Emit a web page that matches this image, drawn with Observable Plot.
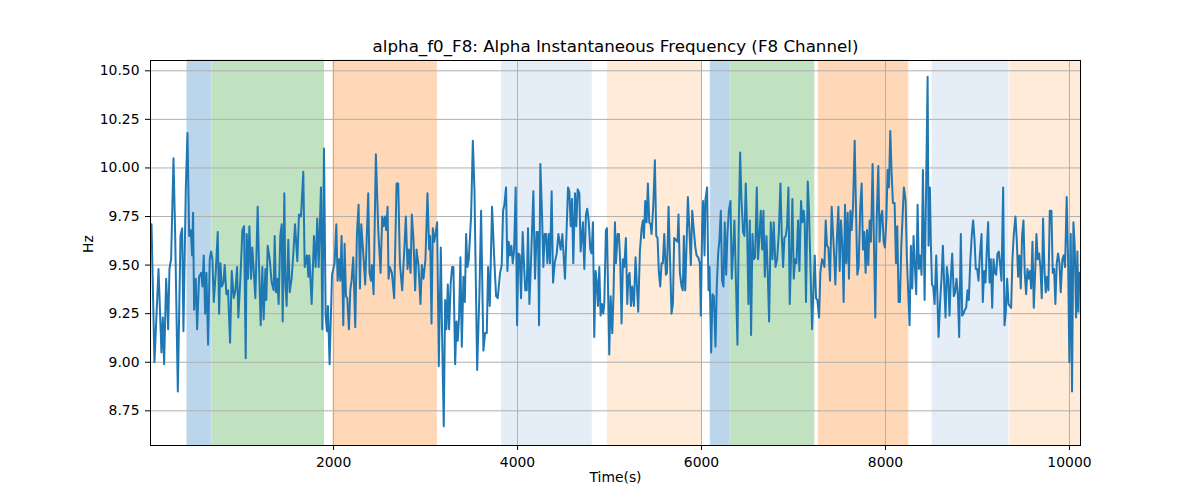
<!DOCTYPE html>
<html>
<head>
<meta charset="utf-8">
<script src="https://cdn.jsdelivr.net/npm/d3@7"></script>
<script src="https://cdn.jsdelivr.net/npm/@observablehq/plot@0.6"></script>
<style>
  body { margin: 0; background: #fff; }
  #chart svg { font-family: "DejaVu Sans", sans-serif; }
</style>
</head>
<body>
<div id="chart"></div>
<script>
const title = "alpha_f0_F8: Alpha Instantaneous Frequency (F8 Channel)";
const xLabel = "Time(s)";
const yLabel = "Hz";
const xTicks = [2000, 4000, 6000, 8000, 10000];
const yTicks = [8.75, 9.00, 9.25, 9.50, 9.75, 10.00, 10.25, 10.50];

const times = [
21,53,97,129,144,158,180,191,202,216,234,260,278,307,336,354,368,394,412,430,448,462,473,484,502,517,538,560,575,589,
604,618,636,654,669,683,698,719,741,756,770,784,803,817,835,853,875,893,915,933,951,965,987,1009,1027,1045,1056,1070,1085,1103,
1117,1150,1175,1190,1208,1226,1240,1259,1269,1284,1306,1327,1349,1360,1374,1389,1403,1421,1436,1447,1465,1476,1490,1508,1523,1544,1563,1581,1606,1624,
1646,1671,1686,1711,1726,1736,1762,1787,1805,1823,1838,1863,1878,1896,1914,1928,1939,1957,1983,2011,2030,2044,2059,2073,2087,2106,2120,2135,2149,2167,
2182,2196,2214,2236,2254,2272,2287,2301,2323,2344,2377,2391,2406,2417,2435,2460,2486,2511,2529,2543,2558,2572,2587,2598,2612,2634,2659,2685,2703,2721,
2746,2768,2786,2804,2818,2837,2851,2869,2887,2902,2923,2945,2960,2978,2999,3021,3039,3050,3065,3079,3094,3108,3126,3144,3166,3180,3198,3213,3227,3242,
3256,3274,3289,3303,3322,3336,3350,3365,3379,3394,3412,3427,3441,3456,3470,3495,3514,3532,3561,3586,3604,3629,3647,3666,3680,3698,3723,3749,3767,3785,
3810,3828,3843,3857,3875,3890,3904,3919,3933,3948,3962,3980,3995,4009,4024,4038,4056,4071,4085,4100,4114,4129,4147,4172,4190,4208,4223,4234,4248,4266,
4281,4295,4310,4324,4339,4353,4371,4386,4404,4426,4444,4469,4487,4516,4549,4563,4578,4592,4606,4625,4639,4654,4672,4686,4711,4726,4744,4758,4773,4791,
4805,4820,4834,4849,4860,4874,4889,4903,4918,4932,4943,4961,4972,4997,5012,5030,5044,5059,5070,5088,5102,5117,5131,5146,5160,5178,5193,5204,5218,5233,
5247,5265,5283,5298,5312,5330,5349,5363,5374,5388,5403,5417,5432,5446,5457,5475,5493,5508,5522,5537,5551,5566,5580,5595,5613,5624,5642,5660,5674,5689,
5703,5721,5739,5750,5765,5783,5797,5808,5823,5837,5852,5870,5884,5899,5913,5931,5946,5964,5982,5993,6007,6018,6033,6043,6061,6076,6087,6105,6119,6134,
6152,6166,6181,6195,6210,6224,6239,6253,6268,6282,6297,6315,6329,6344,6358,6373,6391,6405,6420,6434,6452,6467,6481,6496,6510,6525,6539,6554,6568,6583,
6601,6615,6630,6644,6659,6673,6688,6706,6720,6735,6753,6771,6785,6804,6822,6840,6858,6872,6887,6901,6916,6930,6945,6959,6974,6988,7003,7017,7032,7050,
7064,7082,7097,7111,7122,7136,7155,7169,7184,7202,7216,7231,7245,7260,7278,7292,7310,7321,7336,7350,7364,7379,7397,7415,7430,7444,7455,7473,7488,7502,
7516,7531,7545,7560,7574,7589,7603,7618,7632,7647,7665,7679,7694,7708,7726,7741,7755,7770,7784,7799,7813,7828,7842,7860,7875,7889,7904,7922,7936,7951,
7965,7980,7994,8009,8023,8038,8052,8067,8081,8099,8114,8128,8143,8157,8172,8186,8200,8219,8233,8247,8262,8276,8291,8305,8320,8334,8349,8363,8378,8392,
8407,8425,8458,8468,8483,8494,8505,8519,8534,8552,8563,8577,8595,8610,8624,8639,8653,8667,8682,8696,8711,8725,8743,8758,8772,8787,8801,8819,8834,8848,
8863,8877,8892,8906,8921,8939,8953,8968,8982,8997,9011,9026,9044,9058,9073,9087,9102,9116,9131,9145,9160,9174,9189,9203,9218,9232,9247,9261,9279,9294,
9308,9323,9337,9351,9366,9380,9395,9413,9427,9442,9456,9471,9485,9500,9514,9529,9543,9558,9572,9583,9598,9612,9627,9641,9655,9670,9684,9699,9713,9728,
9742,9757,9771,9786,9804,9818,9833,9847,9862,9876,9891,9905,9923,9938,9952,9970,9985,9999,10014,10028,10043,10057,10072,10086,10097,10108
];

const hz = [
9.71,9.00,9.48,9.05,9.23,8.99,9.43,9.32,9.17,9.48,9.53,10.05,9.66,8.85,9.65,9.69,9.16,9.90,10.18,9.65,9.68,9.55,9.77,9.27,9.43,9.17,9.44,9.46,9.39,9.55,
9.25,9.46,9.09,9.53,9.57,9.53,9.31,9.46,9.67,9.25,9.51,9.39,9.41,9.50,9.35,9.37,9.10,9.47,9.33,9.37,9.49,9.23,9.43,9.68,9.70,9.02,9.66,9.43,9.70,9.43,
9.59,9.33,9.80,9.49,9.19,9.49,9.22,9.48,9.32,9.60,9.53,9.41,9.37,9.65,9.36,9.43,9.30,9.65,9.71,9.21,9.87,9.41,9.29,9.63,9.36,9.43,9.56,9.71,9.52,9.76,
9.75,9.98,9.49,9.55,9.44,9.55,9.30,9.65,9.49,9.74,9.49,9.90,9.17,10.10,9.24,9.16,9.29,8.99,9.45,9.51,9.71,9.42,9.53,9.42,9.65,9.19,9.61,9.34,9.33,9.17,
9.37,9.42,9.54,9.18,9.66,9.81,9.38,9.71,9.56,9.40,9.87,9.46,9.42,9.50,9.35,10.07,9.68,9.46,9.75,9.70,9.75,9.68,9.80,9.43,9.49,9.46,9.33,9.92,9.92,9.51,
9.37,9.57,9.75,9.48,9.58,9.46,9.76,9.63,9.37,9.58,9.50,9.30,9.50,9.43,9.53,9.87,9.58,9.65,9.20,9.69,9.62,9.66,9.72,8.98,9.59,9.14,8.67,9.32,9.17,9.40,
9.17,9.41,9.49,9.49,8.99,9.21,9.11,9.24,9.54,9.08,9.44,9.31,9.66,9.49,9.53,9.75,10.14,9.88,8.96,9.36,9.78,9.06,9.15,9.15,9.49,9.29,9.80,9.51,9.34,9.33,
9.46,9.50,9.78,9.81,9.90,9.47,9.62,9.55,9.60,9.51,9.57,9.90,9.19,9.56,9.55,9.33,9.67,9.49,9.37,9.37,9.69,9.30,9.53,9.88,9.43,9.67,9.67,9.19,10.02,9.76,
9.49,9.66,9.66,9.51,9.66,9.51,9.88,9.41,9.51,9.56,9.66,9.58,9.66,9.43,9.90,9.88,9.70,9.84,9.51,9.87,9.70,9.89,9.87,9.57,9.72,9.48,9.76,9.79,9.73,9.58,
9.56,9.72,9.13,9.47,9.42,9.29,9.49,9.24,9.30,9.25,9.30,9.68,9.69,9.04,9.34,9.15,9.36,9.72,9.51,9.66,9.66,9.51,9.20,9.53,9.49,9.64,9.30,9.44,9.46,9.29,
9.39,9.29,9.54,9.39,9.26,9.57,9.69,9.73,9.64,9.83,9.72,9.92,9.72,9.71,9.66,9.80,10.04,9.65,9.64,9.46,9.39,9.51,9.51,9.66,9.45,9.46,9.80,9.49,9.25,9.30,
9.64,9.63,9.62,9.76,9.46,9.39,9.37,9.65,9.37,9.60,9.85,9.66,9.50,9.78,9.70,9.60,9.55,9.54,9.51,9.24,9.70,9.83,9.55,9.84,9.90,9.37,9.49,9.05,9.35,9.34,
9.08,9.39,9.56,9.63,9.78,9.42,9.39,9.72,9.45,9.66,9.78,9.83,9.43,9.58,9.73,9.44,9.09,9.70,10.08,9.84,9.67,9.65,9.92,9.68,9.30,9.73,9.14,9.66,9.53,9.54,
9.90,9.53,9.65,9.78,9.58,9.78,9.44,9.65,9.46,9.21,9.72,9.53,9.72,9.49,9.53,9.66,9.92,9.66,9.49,9.64,9.65,9.70,9.90,9.30,9.55,9.84,9.43,9.53,9.51,9.73,
9.47,9.83,9.72,9.78,9.72,9.31,9.93,9.77,9.49,9.17,9.36,9.55,9.33,9.32,9.23,9.46,9.53,9.52,9.49,9.73,9.60,9.59,9.42,9.80,9.66,9.53,9.40,9.65,9.80,9.47,
9.73,9.60,9.31,9.81,9.51,9.77,9.43,9.78,9.68,9.80,10.14,9.80,9.45,9.49,9.80,9.92,9.58,9.67,9.46,9.68,9.50,9.73,9.62,10.02,9.60,9.23,9.73,10.01,9.62,9.75,
9.78,9.62,9.59,9.73,9.99,9.90,10.19,9.97,9.82,9.82,9.51,9.70,9.31,9.31,9.60,9.75,9.90,9.83,9.53,9.36,9.19,9.60,9.38,9.65,9.49,9.35,9.81,9.48,9.55,9.45,
9.99,9.32,10.47,9.60,9.90,9.60,9.40,9.39,9.30,9.55,9.36,9.13,9.32,9.44,9.60,9.39,9.23,9.49,9.43,9.24,9.44,9.56,9.34,9.36,9.43,9.35,9.13,9.66,9.24,9.25,
9.27,9.28,9.37,9.32,9.51,9.66,9.73,9.63,9.48,9.48,9.42,9.55,9.66,9.31,9.47,9.41,9.58,9.72,9.41,9.53,9.28,9.53,9.46,9.45,9.56,9.57,9.50,9.42,9.90,9.19,
9.26,9.43,9.30,9.29,9.28,9.53,9.66,9.75,9.63,9.44,9.55,9.38,9.65,9.73,9.46,9.35,9.48,9.43,9.47,9.38,9.62,9.28,9.46,9.66,9.53,9.56,9.49,9.33,9.74,9.48,
9.36,9.44,9.37,9.78,9.78,9.46,9.48,9.30,9.51,9.56,9.51,9.36,9.53,9.55,9.49,9.85,9.53,9.00,9.66,8.85,9.72,9.60,9.23,9.57,9.26,9.46
];

// shaded phases
const spanStart = [412, 683, 1999, 3832, 4983, 6101, 6318, 7274, 8512, 9358];
const spanEnd   = [672, 1896, 3123, 4806, 5993, 6307, 7227, 8248, 9337, 10120];
const spanPhase = ["p1", "p2", "p3", "p4", "p5", "p1", "p2", "p3", "p4", "p5"];

const series = times.map((t, i) => ({t, hz: hz[i]}));
const spans = spanStart.map((s, i) => ({x1: s, x2: spanEnd[i], phase: spanPhase[i]}));

const phaseColor = {p1: "#bbd6ea", p2: "#c0e2c0", p3: "#ffd8b7", p4: "#e5edf7", p5: "#ffebd7"};

const font = "DejaVu Sans";
const chart = Plot.plot({
  width: 1200,
  height: 500,
  marginLeft: 150,
  marginRight: 120,
  marginTop: 60,
  marginBottom: 55,
  style: {fontFamily: font, fontSize: "13.9px", color: "black", background: "white"},
  x: {domain: [10, 10120]},
  y: {domain: [8.5715, 10.553]},
  marks: [
    Plot.rectX(spans, {x1: "x1", x2: "x2", y1: 8.5715, y2: 10.553, fill: d => phaseColor[d.phase], stroke: d => phaseColor[d.phase], strokeWidth: 1}),
    Plot.gridX(xTicks, {stroke: "#b0b0b0", strokeOpacity: 1, strokeWidth: 1}),
    Plot.gridY(yTicks, {stroke: "#b0b0b0", strokeOpacity: 1, strokeWidth: 1}),
    Plot.line(series, {x: "t", y: "hz", stroke: "#1f77b4", strokeWidth: 2, strokeLinejoin: "round"}),
    Plot.frame({stroke: "black", strokeWidth: 1}),
    Plot.axisX({ticks: xTicks, tickFormat: d => String(d), tickSize: 5, tickPadding: 7, label: null, fontSize: "13.9px"}),
    Plot.axisY({ticks: yTicks, tickFormat: d => d.toFixed(2), tickSize: 5, tickPadding: 6, label: null, fontSize: "13.9px"}),
    Plot.text([title], {frameAnchor: "top", dy: -20, fontSize: "16.7px", fill: "black"}),
    Plot.text([xLabel], {frameAnchor: "bottom", dy: 36, fontSize: "13.9px", fill: "black"}),
    Plot.text([yLabel], {frameAnchor: "left", dx: -62, rotate: -90, fontSize: "13.9px", fill: "black"})
  ]
});
document.getElementById("chart").appendChild(chart);
</script>
</body>
</html>
